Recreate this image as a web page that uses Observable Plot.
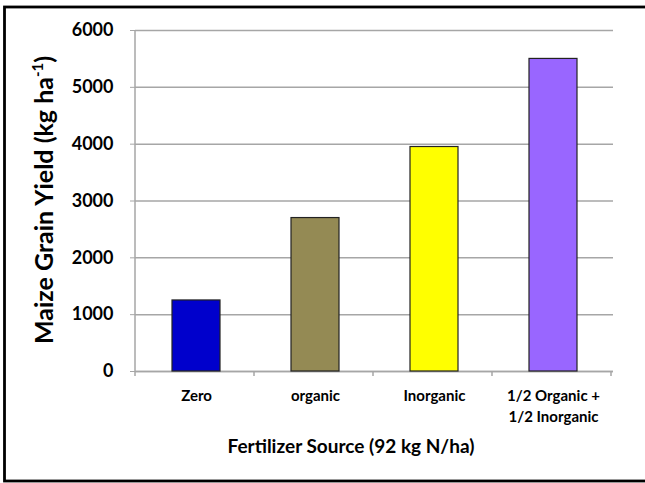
<!DOCTYPE html>
<html><head><meta charset="utf-8">
<script src="https://cdn.jsdelivr.net/npm/d3@7"></script>
<script src="https://cdn.jsdelivr.net/npm/@observablehq/plot@0.6"></script>
<style>
html,body{margin:0;padding:0;background:#fff;}
#chart{position:absolute;left:0;top:0;width:645px;height:483px;overflow:hidden;}
</style></head><body><div id="chart"></div>
<script>
const categories = ["Zero", "organic", "Inorganic", "1/2 Organic +\n1/2 Inorganic"];
const yields = [1250, 2700, 3950, 5500];
const colors = ["#0000CC", "#948A54", "#FFFF00", "#9966FF"];
const yTicks = [0, 1000, 2000, 3000, 4000, 5000, 6000];
const yTitle = "Maize Grain Yield (kg ha";
const yTitleSup = "-1";
const yTitleEnd = ")";
const xTitle = "Fertilizer Source (92 kg N/ha)";

const data = categories.map((c, i) => ({cat: c, value: yields[i], color: colors[i]}));
const grid = "#a6a6a6";

const chart = Plot.plot({
  width: 645, height: 483,
  marginLeft: 135, marginRight: 32, marginTop: 30, marginBottom: 112,
  style: {fontFamily: "Lato", fontWeight: "bold", color: "#000", background: "transparent", overflow: "visible"},
  x: {domain: categories, paddingInner: 0.6, paddingOuter: 0.3},
  y: {domain: [0, 6000]},
  marks: [
    Plot.gridY(yTicks, {stroke: grid, strokeOpacity: 1, strokeWidth: 1.5}),
    Plot.ruleY([0], {stroke: grid, strokeWidth: 1.5}),
    Plot.barY(data, {x: "cat", y: "value", fill: "color", stroke: "#222", strokeWidth: 1.2}),
    Plot.axisY(yTicks, {tickSize: 5, tickPadding: 17, stroke: grid, fontSize: 18, fontWeight: "bold", label: null, tickFormat: d => String(d)}),
    Plot.axisX({tickSize: 0, tickPadding: 15, fontSize: 15, fontWeight: "bold", lineHeight: 1.4, label: null})
  ]
});
document.getElementById("chart").appendChild(chart);

const svg = d3.select(chart);
const xs = chart.scale("x");
const ys = chart.scale("y");
const x0 = xs.range[0];
const yb = ys.apply(0), yt = ys.apply(6000);

// outer frame
svg.insert("rect", ":first-child").attr("x", 4.5).attr("y", 7).attr("width", 660).attr("height", 474)
  .attr("fill", "none").attr("stroke", "#000").attr("stroke-width", 2.8);
// y axis line
svg.append("line").attr("x1", x0).attr("x2", x0).attr("y1", yt).attr("y2", yb)
  .attr("stroke", grid).attr("stroke-width", 1.5);
// x boundary ticks
const step = xs.step;
for (let i = 0; i <= categories.length; i++) {
  const xb = x0 + i * step;
  svg.append("line").attr("x1", xb).attr("x2", xb).attr("y1", yb).attr("y2", yb + 5)
    .attr("stroke", grid).attr("stroke-width", 1.5);
}
// y title
const yt_el = svg.append("text")
  .attr("transform", `translate(53,200) rotate(-90)`)
  .attr("text-anchor", "middle")
  .attr("font-family", "Lato").attr("font-weight", "bold").attr("font-size", 25).attr("fill", "#000");
yt_el.append("tspan").text(yTitle);
yt_el.append("tspan").attr("dy", -10).attr("font-size", 15).text(yTitleSup);
yt_el.append("tspan").attr("dy", 10).text(yTitleEnd);
// x title
svg.append("text").attr("x", 351).attr("y", 453).attr("text-anchor", "middle")
  .attr("font-family", "Lato").attr("font-weight", "bold").attr("font-size", 19).attr("fill", "#000")
  .text(xTitle);
</script></body></html>
